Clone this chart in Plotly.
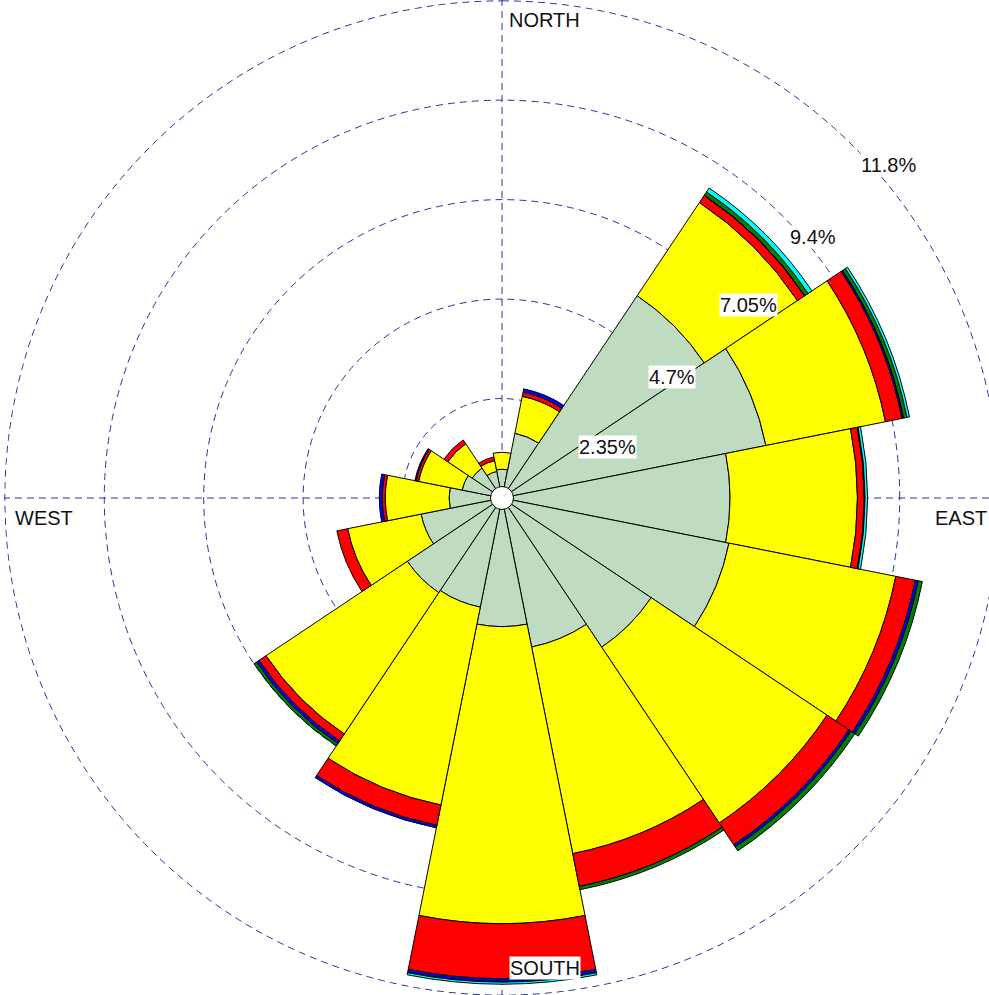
import plotly.graph_objects as go

# Compass sectors, clockwise from north (degrees)
directions = ["N", "NNE", "NE", "ENE", "E", "ESE", "SE", "SSE",
              "S", "SSW", "SW", "WSW", "W", "WNW", "NW", "NNW"]
direction_angles = [0, 22.5, 45, 67.5, 90, 112.5, 135, 157.5,
                    180, 202.5, 225, 247.5, 270, 292.5, 315, 337.5]
sector_width = 22.5

# Frequency (%) of each speed class per sector, innermost class first
class_1 = [0.68, 1.56, 5.75, 6.36, 5.39, 5.47, 4.24, 3.59,
           3.04, 2.63, 2.69, 1.95, 1.25, 0.96, 0.85, 0.64]
class_2 = [0.40, 0.89, 2.65, 2.88, 3.01, 4.02, 5.00, 4.98,
           7.02, 4.77, 4.02, 1.77, 1.51, 1.05, 0.69, 0.26]
class_3 = [0.00, 0.10, 0.20, 0.40, 0.16, 0.47, 0.62, 0.79,
           1.30, 0.49, 0.20, 0.26, 0.07, 0.06, 0.11, 0.09]
class_4 = [0.00, 0.08, 0.01, 0.04, 0.01, 0.07, 0.06, 0.00,
           0.07, 0.06, 0.07, 0.00, 0.07, 0.03, 0.00, 0.00]
class_5 = [0.00, 0.00, 0.09, 0.08, 0.01, 0.10, 0.11, 0.08,
           0.01, 0.00, 0.07, 0.00, 0.00, 0.00, 0.00, 0.00]
class_6 = [0.00, 0.00, 0.11, 0.06, 0.06, 0.00, 0.00, 0.00,
           0.05, 0.00, 0.00, 0.00, 0.00, 0.00, 0.00, 0.00]

class_colors = ["#c0dcc0", "#ffff00", "#ff0000", "#0000ff", "#008000", "#00ffff"]

# Radial rings and their labels
ring_values = [2.35, 4.7, 7.05, 9.4, 11.75]
ring_labels = ["2.35%", "4.7%", "7.05%", "9.4%", "11.8%"]
compass_labels = ["NORTH", "EAST", "SOUTH", "WEST"]
compass_angles = [0, 90, 180, 270]

W, H = 1004, 996
GRID = "#2e2ea0"
DASH = "7px,5px"
FONT = "Arial, Liberation Sans, sans-serif"

fig = go.Figure()

# outermost ring sits on the edge of the plotting area, so trace it explicitly
ring_theta = list(range(0, 361))
fig.add_trace(go.Scatterpolar(
    r=[ring_values[-1]] * len(ring_theta), theta=ring_theta, mode="lines",
    line=dict(color=GRID, width=1, dash=DASH),
    hoverinfo="skip", showlegend=False, cliponaxis=False,
))

for color, values in zip(class_colors,
                         [class_1, class_2, class_3, class_4, class_5, class_6]):
    fig.add_trace(go.Barpolar(
        r=[v if v > 0 else None for v in values],
        theta=direction_angles,
        width=[sector_width] * len(direction_angles),
        marker=dict(color=color, line=dict(color="black", width=1)),
        hoverinfo="skip",
        showlegend=False,
    ))

# white hub in the middle
fig.add_trace(go.Scatterpolar(
    r=[0], theta=[0], mode="markers",
    marker=dict(size=23, color="white", line=dict(color="black", width=1)),
    hoverinfo="skip", showlegend=False, cliponaxis=False,
))


def px(x, y):
    return x / W, 1 - y / H


annotations = []
# ring labels along the north-east diagonal
ring_label_pos = [(578, 447), (648, 377), (719, 305), (789, 237), (860, 165)]
for text, (x, y) in zip(ring_labels, ring_label_pos):
    ax, ay = px(x, y)
    annotations.append(dict(x=ax, y=ay, xref="paper", yref="paper", text=text,
                            showarrow=False, xanchor="left", yanchor="middle",
                            bgcolor="white", borderpad=0,
                            font=dict(family=FONT, size=20, color="#111111")))

compass_pos = [(508, 20), (934, 518), (509, 968), (14, 518)]
for text, (x, y) in zip(compass_labels, compass_pos):
    ax, ay = px(x, y)
    annotations.append(dict(x=ax, y=ay, xref="paper", yref="paper", text=text,
                            showarrow=False, xanchor="left", yanchor="middle",
                            bgcolor="white", borderpad=0,
                            font=dict(family=FONT, size=20, color="#111111")))

fig.update_layout(
    width=W, height=H,
    margin=dict(l=0, r=0, t=0, b=0),
    paper_bgcolor="white",
    showlegend=False,
    annotations=annotations,
    polar=dict(
        domain=dict(x=[0, 1], y=[0, 1]),
        bgcolor="white",
        barmode="stack",
        bargap=0,
        radialaxis=dict(range=[0, 11.77], angle=45, tickmode="array",
                        tickvals=ring_values,
                        showticklabels=False, ticks="", showline=False,
                        linecolor="rgba(0,0,0,0)",
                        gridcolor=GRID, gridwidth=1, griddash=DASH,
                        layer="below traces"),
        angularaxis=dict(type="linear", thetaunit="degrees",
                         direction="clockwise", rotation=90,
                         tickmode="array", tickvals=compass_angles,
                         showticklabels=False, ticks="", showline=False,
                         gridcolor=GRID, gridwidth=1, griddash=DASH,
                         layer="below traces"),
    ),
)

fig.write_html(
    "out.html",
    post_script="document.body.style.margin='0';"
                "document.body.style.overflow='hidden';"
                "document.documentElement.style.overflow='hidden';",
)
